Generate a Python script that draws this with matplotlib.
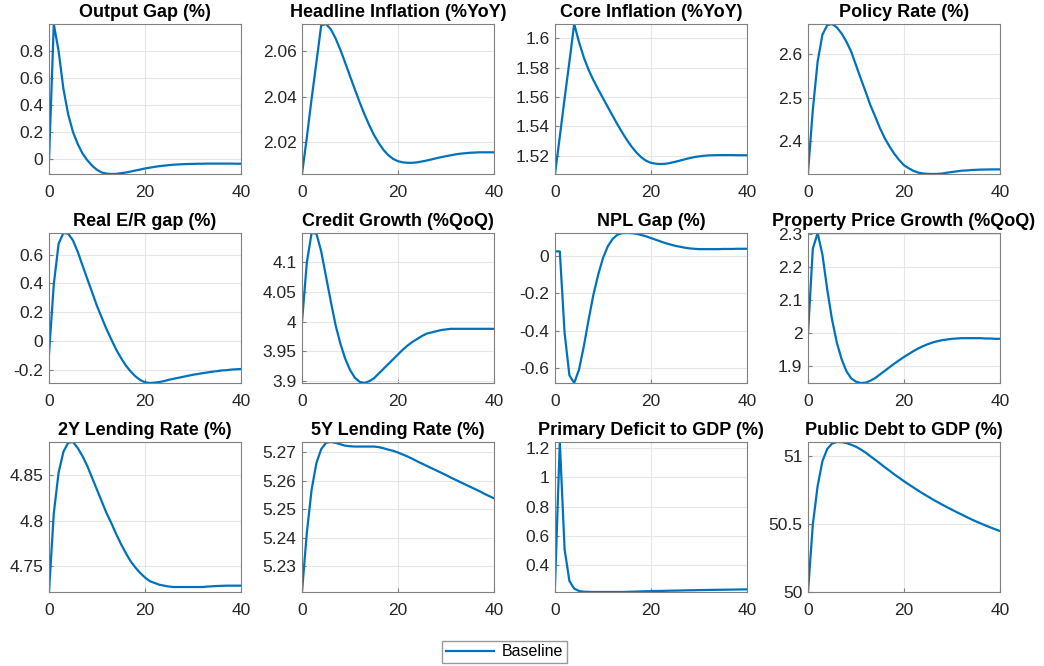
import numpy as np
import matplotlib
matplotlib.use("Agg")
import matplotlib.pyplot as plt

plt.rcParams['font.family'] = ['Liberation Sans', 'DejaVu Sans']

# horizon (quarters)
t = np.arange(41)

titles = ["Output Gap (%)", "Headline Inflation (%YoY)", "Core Inflation (%YoY)", "Policy Rate (%)",
          "Real E/R gap (%)", "Credit Growth (%QoQ)", "NPL Gap (%)", "Property Price Growth (%QoQ)",
          "2Y Lending Rate (%)", "5Y Lending Rate (%)", "Primary Deficit to GDP (%)", "Public Debt to GDP (%)"]

output_gap = [-0.01, 1.0, 0.80, 0.52, 0.33, 0.20, 0.11, 0.04, -0.01, -0.05, -0.08, -0.10, -0.108, -0.111,
              -0.11, -0.105, -0.10, -0.093, -0.085, -0.078, -0.07, -0.064, -0.058, -0.053, -0.049, -0.045,
              -0.042, -0.04, -0.038, -0.037, -0.036, -0.035, -0.035, -0.034, -0.034, -0.034, -0.034, -0.034,
              -0.034, -0.035, -0.035]
headline = [2.0061, 2.022, 2.039, 2.055, 2.0712, 2.0718, 2.0695, 2.0655, 2.0605, 2.0548, 2.049, 2.0432,
            2.0376, 2.0323, 2.0275, 2.0232, 2.0196, 2.0166, 2.0143, 2.0127, 2.0117, 2.0112, 2.011, 2.011,
            2.0112, 2.0116, 2.012, 2.0125, 2.013, 2.0135, 2.0139, 2.0143, 2.0147, 2.015, 2.0152, 2.0154,
            2.0155, 2.0156, 2.0156, 2.0156, 2.0156]
core = [1.5075, 1.533, 1.559, 1.584, 1.6098, 1.5975, 1.587, 1.5785, 1.5715, 1.5652, 1.5592, 1.5532,
        1.5472, 1.5414, 1.5358, 1.5306, 1.526, 1.522, 1.5188, 1.5165, 1.5151, 1.5145, 1.5143, 1.5145,
        1.515, 1.5158, 1.5166, 1.5175, 1.5183, 1.519, 1.5195, 1.5199, 1.5202, 1.5203, 1.5204, 1.5204,
        1.5204, 1.5204, 1.5203, 1.5203, 1.5203]
policy = [2.328, 2.472, 2.583, 2.645, 2.667, 2.6697, 2.662, 2.648, 2.629, 2.606, 2.575, 2.544, 2.514,
          2.483, 2.457, 2.43, 2.407, 2.388, 2.371, 2.357, 2.345, 2.338, 2.332, 2.328, 2.326, 2.3252,
          2.3249, 2.3252, 2.326, 2.328, 2.3295, 2.331, 2.3325, 2.333, 2.334, 2.3345, 2.335, 2.3352,
          2.3354, 2.3355, 2.3355]
reer_gap = [-0.089, 0.395, 0.677, 0.752, 0.747, 0.70, 0.62, 0.524, 0.43, 0.337, 0.243, 0.161, 0.08,
            0.009, -0.061, -0.119, -0.171, -0.213, -0.247, -0.273, -0.289, -0.2936, -0.291, -0.287,
            -0.28, -0.271, -0.264, -0.257, -0.25, -0.243, -0.236, -0.231, -0.225, -0.22, -0.215, -0.211,
            -0.206, -0.204, -0.2, -0.198, -0.196]
credit = [4.0, 4.099, 4.149, 4.148, 4.118, 4.076, 4.034, 3.994, 3.963, 3.938, 3.919, 3.906, 3.899,
          3.897, 3.90, 3.905, 3.913, 3.921, 3.929, 3.937, 3.945, 3.953, 3.96, 3.966, 3.971, 3.976, 3.98,
          3.982, 3.984, 3.986, 3.987, 3.988, 3.988, 3.988, 3.988, 3.988, 3.988, 3.988, 3.988, 3.988, 3.988]
npl_gap = [0.023, 0.023, -0.412, -0.637, -0.678, -0.607, -0.483, -0.341, -0.208, -0.101, -0.012, 0.05,
           0.089, 0.112, 0.12, 0.121, 0.12, 0.117, 0.11, 0.103, 0.094, 0.085, 0.076, 0.067, 0.06, 0.053,
           0.048, 0.043, 0.039, 0.037, 0.035, 0.035, 0.035, 0.035, 0.035, 0.036, 0.036, 0.036, 0.037,
           0.037, 0.037]
property_growth = [1.998, 2.255, 2.303, 2.238, 2.132, 2.041, 1.971, 1.92, 1.884, 1.862, 1.852, 1.848,
                   1.849, 1.855, 1.863, 1.874, 1.885, 1.896, 1.907, 1.917, 1.927, 1.936, 1.945, 1.953,
                   1.96, 1.966, 1.971, 1.975, 1.978, 1.98, 1.982, 1.983, 1.984, 1.984, 1.984, 1.984, 1.984,
                   1.983, 1.983, 1.982, 1.982]
lending_2y = [4.721, 4.808, 4.853, 4.876, 4.886, 4.8868, 4.88, 4.871, 4.86, 4.847, 4.834, 4.821, 4.808,
              4.797, 4.785, 4.774, 4.764, 4.755, 4.748, 4.742, 4.737, 4.733, 4.731, 4.729, 4.728, 4.727,
              4.7265, 4.7265, 4.7265, 4.7265, 4.7265, 4.7265, 4.7265, 4.727, 4.7273, 4.7276, 4.7278,
              4.728, 4.728, 4.728, 4.728]
lending_5y = [5.2209, 5.2416, 5.2568, 5.2662, 5.2711, 5.2733, 5.2736, 5.2733, 5.2728, 5.2723, 5.2721,
              5.272, 5.272, 5.272, 5.272, 5.272, 5.2718, 5.2714, 5.2709, 5.2705, 5.2699, 5.2692, 5.2685,
              5.2677, 5.2668, 5.266, 5.2652, 5.2644, 5.2636, 5.2628, 5.262, 5.2611, 5.2603, 5.2595,
              5.2587, 5.2579, 5.2571, 5.2563, 5.2554, 5.2546, 5.2538]
primary_deficit = [0.259, 1.241, 0.509, 0.293, 0.241, 0.225, 0.22, 0.219, 0.218, 0.218, 0.218, 0.218,
                   0.218, 0.218, 0.218, 0.219, 0.22, 0.221, 0.222, 0.223, 0.224, 0.225, 0.2255, 0.226,
                   0.227, 0.2275, 0.228, 0.229, 0.2295, 0.230, 0.231, 0.2315, 0.232, 0.2325, 0.233,
                   0.2335, 0.234, 0.2345, 0.235, 0.2355, 0.236]
public_debt = [50.0, 50.495, 50.78, 50.963, 51.054, 51.093, 51.105, 51.104, 51.097, 51.085, 51.07,
               51.05, 51.027, 51.0, 50.974, 50.947, 50.919, 50.893, 50.866, 50.841, 50.816, 50.792,
               50.769, 50.746, 50.724, 50.703, 50.682, 50.662, 50.643, 50.624, 50.606, 50.588, 50.571,
               50.553, 50.536, 50.52, 50.505, 50.49, 50.476, 50.462, 50.449]

series = [output_gap, headline, core, policy, reer_gap, credit, npl_gap, property_growth,
          lending_2y, lending_5y, primary_deficit, public_debt]

yticks = [[0, 0.2, 0.4, 0.6, 0.8], [2.02, 2.04, 2.06], [1.52, 1.54, 1.56, 1.58, 1.6], [2.4, 2.5, 2.6],
          [-0.2, 0, 0.2, 0.4, 0.6], [3.9, 3.95, 4, 4.05, 4.1], [-0.6, -0.4, -0.2, 0],
          [1.9, 2, 2.1, 2.2, 2.3], [4.75, 4.8, 4.85], [5.23, 5.24, 5.25, 5.26, 5.27],
          [0.4, 0.6, 0.8, 1, 1.2], [50, 50.5, 51]]

W, H = 1044, 666
col_left = [49, 302, 555, 808]
row_top = [24, 233, 442]
ax_w, ax_h = 192, 150

fig = plt.figure(figsize=(W / 100, H / 100), dpi=100)
blue = '#0072BD'
edge = '#808080'

for i in range(12):
    r, c = divmod(i, 4)
    ax = fig.add_axes([col_left[c] / W, 1 - (row_top[r] + ax_h) / H, ax_w / W, ax_h / H])
    y = np.array(series[i])
    line, = ax.plot(t, y, color=blue, lw=1.6, label='Baseline')
    ax.set_xlim(0, 40)
    ax.set_ylim(y.min(), y.max())
    ax.set_xticks([0, 20, 40])
    ax.set_yticks(yticks[i])
    ax.set_yticklabels(['%g' % v for v in yticks[i]])
    ax.grid(True, color='#e6e6e6', lw=0.8)
    ax.set_axisbelow(True)
    ax.tick_params(direction='in', length=3, color=edge, labelsize=12.5, labelcolor='#262626', pad=4)
    ax.tick_params(axis='x', pad=8)
    for s in ax.spines.values():
        s.set_color(edge)
        s.set_linewidth(0.8)
    ax.set_title(titles[i], fontsize=13, fontweight='bold', pad=5)

fig.legend(handles=[line], loc='center', bbox_to_anchor=(504.5 / W, 1 - 652 / H), fontsize=11.5,
           frameon=True, fancybox=False, edgecolor=edge, handlelength=3.0, borderpad=0.25,
           handletextpad=0.5)

fig.savefig('out.png', dpi=100, facecolor='white')
